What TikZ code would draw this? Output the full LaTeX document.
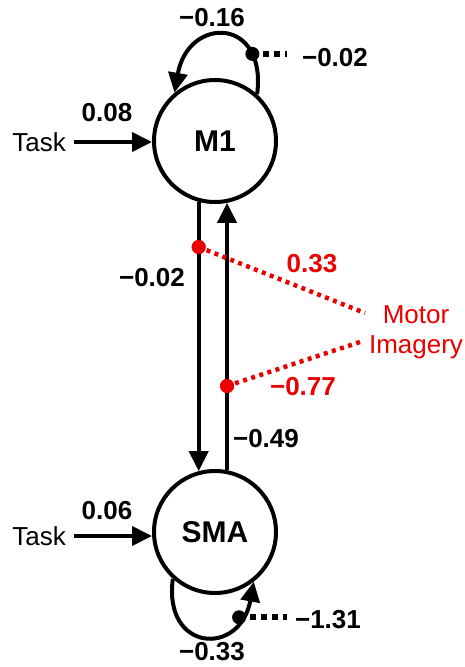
\documentclass[tikz,border=0pt]{standalone}
\usepackage{fontspec}
\setmainfont{Liberation Sans}
\usetikzlibrary{arrows.meta}
\definecolor{imagery}{RGB}{235,0,0}
\begin{document}
\begin{tikzpicture}[x=1pt,y=-1pt,
  region/.style={circle, draw, line width=4pt, minimum size=122pt, inner sep=0pt,
    font=\fontsize{30}{34}\selectfont\bfseries},
  flow/.style={line width=4pt, -{Triangle[length=20pt,width=19pt]}},
  wt/.style={font=\fontsize{26}{30}\selectfont\bfseries, inner sep=0pt},
  plain/.style={font=\fontsize{26}{30}\selectfont, inner sep=0pt},
  blackdot/.style={circle, fill=black, minimum size=14pt, inner sep=0pt},
  reddot/.style={circle, fill=imagery, minimum size=14pt, inner sep=0pt},
  noise/.style={line width=6pt, dash pattern=on 6pt off 5pt},
  modlink/.style={imagery, line width=4.5pt, dash pattern=on 4pt off 4.5pt},
]
\useasboundingbox (0,0) rectangle (465,667);

% regions
\node[region] (M1) at (215,141) {M1};
\node[region] (SMA) at (215,532) {SMA};

% driving inputs
\node[plain] (t1) at (39,142) {Task};
\node[plain] (t2) at (39,536) {Task};
\draw[flow, shorten <=8pt] (t1.east) -- (t1.east -| M1.west);
\draw[flow, shorten <=8pt] (t2.east) -- (t2.east -| SMA.west);
\node[wt] (w1) at (107,113) {0.08};
\node[wt] (w2) at (107,511) {0.06};

% self connections
\draw[flow] (M1.48) .. controls (267,16) and (188,16) .. (M1.130)
  node[blackdot, pos=0.22] (n1) {};
\draw[flow] (SMA.228) .. controls (163,652) and (240,657) .. (SMA.308)
  node[blackdot, pos=0.8] (n2) {};
\node[wt] (w3) at (212,18) {−0.16};
\node[wt] (w4) at (335,58) {−0.02};
\node[wt] (w5) at (328,620) {−1.31};
\node[wt] (w6) at (212,652) {−0.33};
\coordinate (e1) at (287,58);
\coordinate (e2) at (287,620);
\draw[noise] (n1.center) -- (n1 -| e1);
\draw[noise] (n2.center) -- (n2 -| e2);

% extrinsic connections
\draw[flow] (M1.255) -- (SMA.105);
\draw[flow] (SMA.79) -- (M1.281);
\node[wt] (w7) at (152,278) {−0.02};
\node[wt] (w8) at (266,439) {−0.49};

% modulation by motor imagery
\node[plain, imagery, align=center, anchor=base] (mi) at (416,353) {Motor\\Imagery};
\node[reddot] (r1) at (M1.255 |- 0,247) {};
\node[reddot] (r2) at (M1.281 |- 0,386) {};
\coordinate (m1) at (365,313);
\coordinate (m2) at (360,342);
\draw[modlink] (r1.center) -- (m1);
\draw[modlink] (r2.center) -- (m2);
\node[reddot] at (r1) {};
\node[reddot] at (r2) {};
\node[wt, imagery] (w9) at (312,264) {0.33};
\node[wt, imagery] (w10) at (303,387) {−0.77};
\end{tikzpicture}
\end{document}
